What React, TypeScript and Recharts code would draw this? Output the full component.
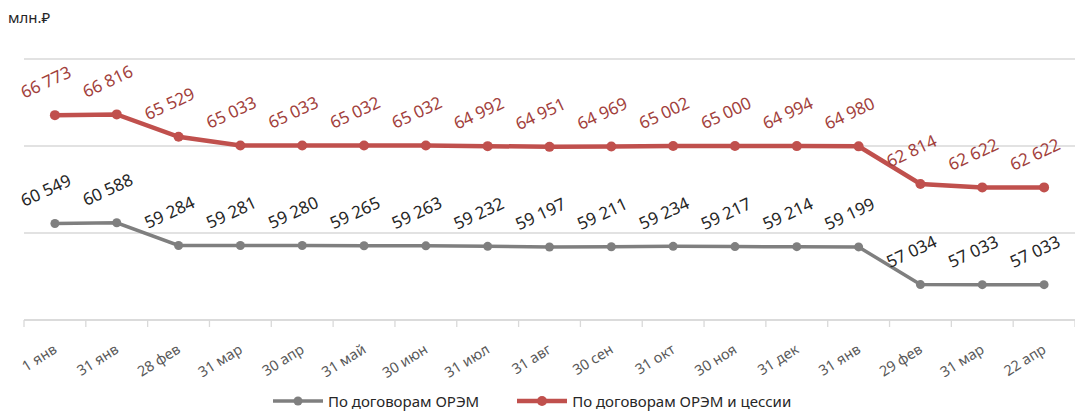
import React from 'react';
import { LineChart, Line, XAxis, YAxis, CartesianGrid, LabelList } from 'recharts';

const categories = ['1 янв', '31 янв', '28 фев', '31 мар', '30 апр', '31 май', '30 июн', '31 июл', '31 авг', '30 сен', '31 окт', '30 ноя', '31 дек', '31 янв', '29 фев', '31 мар', '22 апр'];
const oremValues = [60549, 60588, 59284, 59281, 59280, 59265, 59263, 59232, 59197, 59211, 59234, 59217, 59214, 59199, 57034, 57033, 57033];
const cessionValues = [66773, 66816, 65529, 65033, 65033, 65032, 65032, 64992, 64951, 64969, 65002, 65000, 64994, 64980, 62814, 62622, 62622];
const yTicks = [55000, 60000, 65000, 70000];

const data = categories.map((c, i) => ({ label: c, orem: oremValues[i], cession: cessionValues[i] }));

const FONT = '"Noto Sans", sans-serif';
const W = 1075;
const H = 411;
const LEFT = 24;
const RIGHT = 0;
const BAND = (W - LEFT - RIGHT) / categories.length;

const GRAY = '#7f7f7f';
const RED = '#c0504d';

const fmt = (v: number) => `${Math.floor(v / 1000)} ${String(v % 1000).padStart(3, '0')}`;

const makeLabel = (color: string) => (props: any) => {
  const { x, y, value } = props;
  const cx = x - 9;
  const cy = y - 33;
  return (
    <text x={cx} y={cy} dy="0.35em" textAnchor="middle" fill={color} fontSize={17} fontFamily={FONT}
      transform={`rotate(-25 ${cx} ${cy})`}>
      {fmt(value)}
    </text>
  );
};

const XTick = (props: any) => {
  const { x, y, payload, index } = props;
  const last = index === categories.length - 1;
  return (
    <g transform={`translate(${x},${y})`}>
      <line x1={-BAND / 2} x2={-BAND / 2} y1={0} y2={7} stroke="#d9d9d9" strokeWidth={1.3} />
      {last && <line x1={BAND / 2} x2={BAND / 2} y1={0} y2={7} stroke="#d9d9d9" strokeWidth={1.3} />}
      <text x={3} y={32} textAnchor="end" fill="#595959" fontSize={14.5} fontFamily={FONT}
        transform="rotate(-32 3 32)">
        {payload.value}
      </text>
    </g>
  );
};

const LegendItem = ({ color, width, r, text }: { color: string; width: number; r: number; text: string }) => (
  <div style={{ display: 'flex', alignItems: 'center', marginRight: 38 }}>
    <svg width={50} height={12} style={{ marginRight: 5 }}>
      <line x1={0} x2={50} y1={6} y2={6} stroke={color} strokeWidth={width} />
      <circle cx={25} cy={6} r={r} fill={color} />
    </svg>
    <span>{text}</span>
  </div>
);

export default function App() {
  return (
    <div style={{ position: 'absolute', left: 0, top: 0, width: W, height: H, background: '#fff', fontFamily: FONT, overflow: 'hidden' }}>
      <div style={{ position: 'absolute', left: 8, top: 7, fontSize: 15, color: '#262626' }}>млн.₽</div>
      <LineChart width={W} height={H} data={data} margin={{ top: 59, right: RIGHT, bottom: 31, left: LEFT }}>
        <CartesianGrid vertical={false} stroke="#d9d9d9" strokeWidth={1.3} />
        <XAxis dataKey="label" height={60} padding={{ left: BAND / 2, right: BAND / 2 }}
          axisLine={{ stroke: '#d9d9d9', strokeWidth: 1.3 }}
          tickLine={false} tickSize={0} tickMargin={0} interval={0} tick={XTick} />
        <YAxis hide domain={[55000, 70000]} ticks={yTicks} />
        <Line dataKey="orem" stroke={GRAY} strokeWidth={3.5} dot={{ r: 4.5, fill: GRAY, stroke: GRAY, strokeWidth: 0 }}
          isAnimationActive={false}>
          <LabelList dataKey="orem" content={makeLabel('#262626')} />
        </Line>
        <Line dataKey="cession" stroke={RED} strokeWidth={4.5} dot={{ r: 5, fill: RED, stroke: RED, strokeWidth: 0 }}
          isAnimationActive={false}>
          <LabelList dataKey="cession" content={makeLabel('#a23f3c')} />
        </Line>
      </LineChart>
      <div style={{ position: 'absolute', left: 273, top: 391, display: 'flex', fontSize: 15, color: '#262626' }}>
        <LegendItem color={GRAY} width={3.5} r={4.5} text="По договорам ОРЭМ" />
        <LegendItem color={RED} width={4.5} r={5} text="По договорам ОРЭМ и цессии" />
      </div>
    </div>
  );
}
